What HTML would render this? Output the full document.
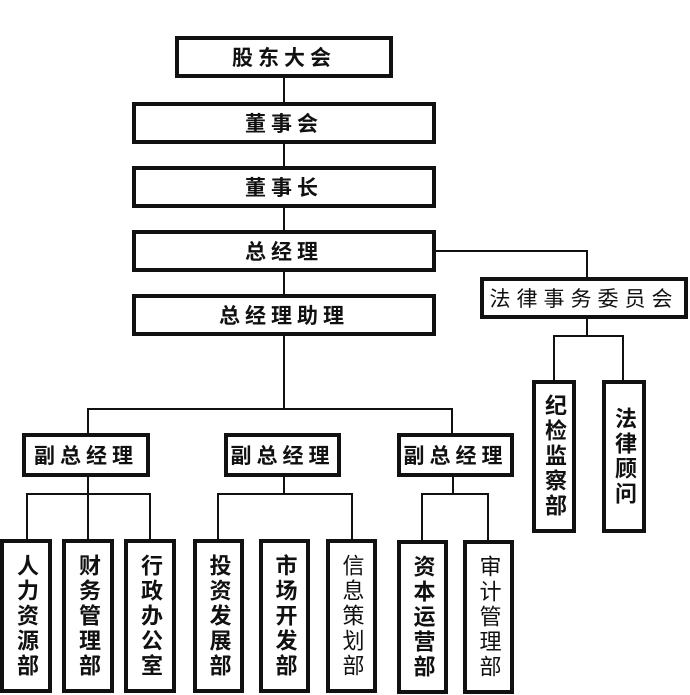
<!DOCTYPE html>
<html><head><meta charset="utf-8"><style>
body{margin:0;width:690px;height:695px;background:#fff;position:relative;overflow:hidden;font-family:"Liberation Sans","Noto Sans CJK SC",sans-serif;}
.b{position:absolute;box-sizing:border-box;border:4px solid #111;background:#fff;display:flex;align-items:center;justify-content:center;font-weight:bold;font-size:21px;color:#111;letter-spacing:5px;}
.n{font-weight:normal;}
.v{writing-mode:vertical-rl;font-size:22px;letter-spacing:3px;align-items:center;}
.h{position:absolute;height:2px;background:#111;}
.l{position:absolute;width:2px;background:#111;}
</style></head><body>
<div class="l" style="left:283px;top:78px;height:258px"></div>
<div class="l" style="left:283px;top:336px;height:74px"></div>
<div class="h" style="left:436px;top:250px;width:152px"></div>
<div class="l" style="left:586px;top:250px;height:28px"></div>
<div class="l" style="left:586px;top:319px;height:18px"></div>
<div class="h" style="left:553px;top:335px;width:71px"></div>
<div class="l" style="left:553px;top:335px;height:46px"></div>
<div class="l" style="left:622px;top:335px;height:46px"></div>
<div class="h" style="left:87px;top:408px;width:366px"></div>
<div class="l" style="left:87px;top:408px;height:26px"></div>
<div class="l" style="left:451px;top:408px;height:26px"></div>
<div class="l" style="left:87px;top:477px;height:18px"></div>
<div class="h" style="left:26px;top:493px;width:125px"></div>
<div class="l" style="left:26px;top:493px;height:47px"></div>
<div class="l" style="left:87px;top:493px;height:47px"></div>
<div class="l" style="left:149px;top:493px;height:47px"></div>
<div class="l" style="left:283px;top:477px;height:18px"></div>
<div class="h" style="left:217px;top:493px;width:136px"></div>
<div class="l" style="left:217px;top:493px;height:47px"></div>
<div class="l" style="left:351px;top:493px;height:47px"></div>
<div class="l" style="left:452px;top:477px;height:18px"></div>
<div class="h" style="left:421px;top:493px;width:68px"></div>
<div class="l" style="left:421px;top:493px;height:47px"></div>
<div class="l" style="left:487px;top:493px;height:47px"></div>
<div class="b" style="left:175px;top:36px;width:218px;height:42px">股东大会</div>
<div class="b" style="left:132px;top:102px;width:304px;height:42px">董事会</div>
<div class="b" style="left:132px;top:166px;width:304px;height:42px">董事长</div>
<div class="b" style="left:132px;top:230px;width:304px;height:42px">总经理</div>
<div class="b" style="left:132px;top:294px;width:304px;height:42px">总经理助理</div>
<div class="b n" style="left:480px;top:277px;width:208px;height:42px;letter-spacing:6px">法律事务委员会</div>
<div class="b v" style="left:532px;top:380px;width:44px;height:153px">纪检监察部</div>
<div class="b v" style="left:602px;top:380px;width:44px;height:153px">法律顾问</div>
<div class="b" style="left:22px;top:433px;width:128px;height:44px">副总经理</div>
<div class="b" style="left:224px;top:433px;width:117px;height:44px">副总经理</div>
<div class="b" style="left:397px;top:433px;width:117px;height:44px">副总经理</div>
<div class="b v" style="left:0px;top:539px;width:52px;height:154px">人力资源部</div>
<div class="b v" style="left:62px;top:539px;width:52px;height:154px">财务管理部</div>
<div class="b v" style="left:124px;top:539px;width:52px;height:154px">行政办公室</div>
<div class="b v" style="left:193px;top:539px;width:51px;height:154px">投资发展部</div>
<div class="b v" style="left:259px;top:539px;width:51px;height:154px">市场开发部</div>
<div class="b v n" style="left:326px;top:539px;width:51px;height:154px">信息策划部</div>
<div class="b v" style="left:397px;top:540px;width:51px;height:154px">资本运营部</div>
<div class="b v n" style="left:463px;top:540px;width:51px;height:154px">审计管理部</div>
</body></html>
